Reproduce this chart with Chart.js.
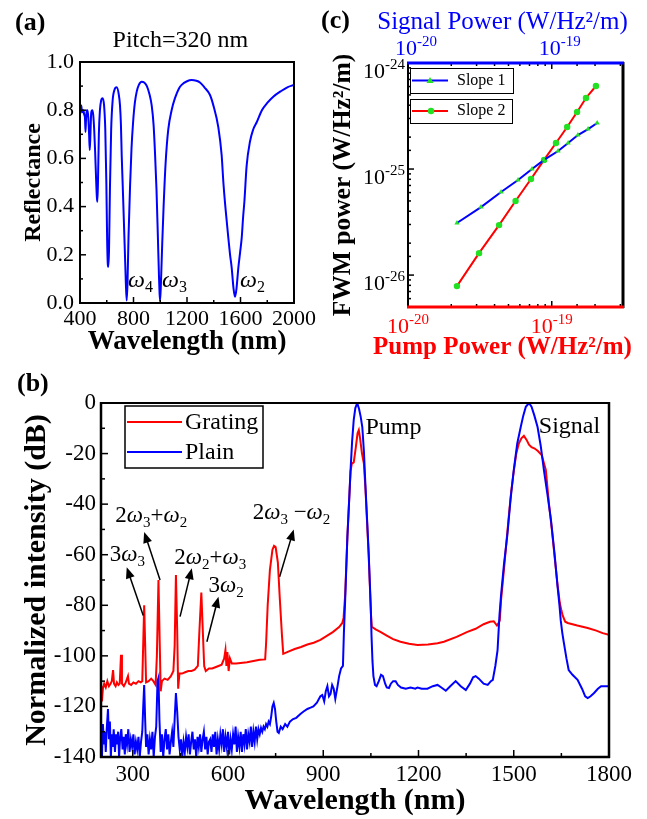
<!DOCTYPE html>
<html>
<head>
<meta charset="utf-8">
<title>FWM grating figure</title>
<script src="https://cdn.jsdelivr.net/npm/chart.js@4.4.1/dist/chart.umd.min.js"></script>
<style>
    html, body { margin: 0; padding: 0; background: #fff; }
    body { width: 647px; height: 819px; position: relative; overflow: hidden; }
    canvas { position: absolute; }
    #reflChart { left: 0; top: 0; }
    #fwmChart { left: 320px; top: 0; }
    #spectrumChart { left: 0; top: 370px; }
</style>
</head>
<body>
<canvas id="reflChart" width="320" height="358"></canvas>
<canvas id="fwmChart" width="327" height="370"></canvas>
<canvas id="spectrumChart" width="647" height="449"></canvas>
<script>
// ---------------- Panel (a): reflectance, pitch = 320 nm ----------------
const reflWavelength = [400, 405, 410, 415, 420, 426, 432, 437, 441, 445, 450, 456, 462, 468, 473, 478, 484, 492, 499, 506,
    513, 520, 526, 530, 535, 541, 549, 558, 569, 580, 589, 597, 603, 608, 612, 617, 624, 633, 644, 658,
    674, 690, 699, 706, 712, 718, 724, 735, 743, 749, 755, 763, 774, 785, 797, 810, 824, 840, 861, 880,
    900, 920, 936, 950, 961, 972, 982, 990, 995, 999, 1005, 1015, 1025, 1040, 1060, 1085, 1110, 1140, 1160, 1200,
    1235, 1270, 1297, 1330, 1372, 1397, 1434, 1459, 1472, 1485, 1497, 1509, 1522, 1534, 1548, 1559, 1570, 1584, 1597, 1609,
    1620, 1629, 1646, 1671, 1695, 1721, 1760, 1800, 1845, 1900, 1950, 2000];
const reflectance = [0.83, 0.80, 0.82, 0.79, 0.80, 0.80, 0.78, 0.77, 0.71, 0.76, 0.80, 0.80, 0.77, 0.70, 0.635, 0.70, 0.79, 0.80, 0.78, 0.72,
    0.63, 0.52, 0.44, 0.42, 0.52, 0.70, 0.80, 0.84, 0.85, 0.82, 0.72, 0.50, 0.26, 0.16, 0.15, 0.22, 0.48, 0.72, 0.84, 0.885,
    0.895, 0.865, 0.82, 0.74, 0.61, 0.51, 0.41, 0.22, 0.08, 0.01, 0.08, 0.28, 0.48, 0.64, 0.75, 0.83, 0.877, 0.905, 0.918, 0.915,
    0.90, 0.865, 0.82, 0.74, 0.62, 0.47, 0.28, 0.12, 0.04, 0.01, 0.08, 0.25, 0.40, 0.58, 0.72, 0.80, 0.85, 0.89, 0.905, 0.92,
    0.925, 0.922, 0.915, 0.895, 0.863, 0.82, 0.73, 0.614, 0.50, 0.41, 0.34, 0.27, 0.20, 0.147, 0.06, 0.026, 0.06, 0.147, 0.21, 0.27,
    0.36, 0.42, 0.57, 0.67, 0.72, 0.75, 0.80, 0.83, 0.856, 0.878, 0.895, 0.905];
const reflXTicks = [400, 600, 800, 1000, 1200, 1400, 1600, 1800, 2000];
const reflYTicks = [0, 0.1, 0.2, 0.3, 0.4, 0.5, 0.6, 0.7, 0.8, 0.9, 1.0];

// ---------------- Panel (b): normalized output spectra ----------------
const gratingWavelength = [200, 203, 206, 210, 215, 220, 225, 230, 234, 238, 241, 246, 250, 255, 259, 263, 266, 272, 278, 285,
    288, 295, 302, 310, 318, 325, 330, 333, 336, 339, 342, 350, 358, 365, 372, 376, 381, 385, 388, 392,
    400, 410, 420, 428, 432, 436, 440, 443, 447, 455, 465, 475, 485, 495, 505, 510, 516, 520, 525, 530,
    540, 550, 560, 570, 580, 588, 592, 595, 598, 602, 606, 612, 625, 640, 660, 680, 700, 717, 720, 725,
    732, 740, 745, 750, 757, 763, 770, 774, 790, 810, 830, 850, 870, 891, 910, 930, 950, 960, 964, 969,
    976, 981, 986, 990, 996, 1002, 1008, 1012, 1016, 1022, 1028, 1033, 1038, 1043, 1047, 1050, 1053, 1065, 1080, 1100,
    1120, 1143, 1170, 1197, 1230, 1260, 1280, 1320, 1354, 1380, 1405, 1425, 1437, 1447, 1452, 1456, 1460, 1469, 1477, 1485,
    1492, 1500, 1508, 1516, 1524, 1532, 1540, 1548, 1556, 1566, 1576, 1588, 1601, 1611, 1620, 1628, 1638, 1645, 1650, 1654,
    1662, 1670, 1700, 1733, 1760, 1780, 1800];
const gratingIntensity = [-112, -118, -113, -111, -112.5, -110, -112, -111, -110, -105.6, -111, -112, -110.5, -111.5, -111, -99.6, -111, -112, -110.5, -108,
    -111, -111.5, -110.5, -111, -110, -110.5, -110, -95, -80, -95, -110.5, -110, -109, -110, -111.5, -100, -70, -95, -114, -110,
    -109, -109.5, -108, -106, -96, -68, -90, -113, -107, -107, -106.5, -106, -106, -105.5, -104, -90, -75, -88, -104, -106,
    -105, -105, -104.5, -104, -103.5, -101, -97.7, -104, -98.5, -106, -101, -103, -103, -102.8, -102.5, -102, -101.5, -101.4, -95, -80,
    -66, -58, -56.5, -57, -63, -77, -92, -99.2, -98.3, -97.3, -96.5, -95.5, -94.8, -93.7, -92.2, -90.6, -88.6, -87, -85, -76,
    -53, -40, -27, -24, -23.5, -18, -12, -10.7, -14, -20, -24, -34, -47, -60, -73, -83, -88.5, -89.5, -90.5, -92,
    -93.4, -94.4, -95.2, -95.7, -95.5, -95, -94.4, -92.5, -90.5, -89.3, -87.5, -86.5, -86.3, -88, -87, -86, -78, -66, -55, -44,
    -35, -27, -20, -16, -14, -13, -14.5, -16.5, -17.5, -18, -19, -20.6, -26.5, -40, -50, -60, -72, -79, -82, -84,
    -86.5, -87, -88, -89, -90, -91, -91.7];

const plainWavelength = [200, 203, 206, 209, 212, 215, 218, 222, 225, 228, 231, 234, 237, 240, 244, 247, 250, 254, 257, 260,
    264, 268, 271, 275, 278, 282, 286, 290, 294, 298, 302, 306, 310, 314, 318, 322, 326, 330, 333, 336,
    339, 342, 346, 350, 354, 358, 362, 366, 370, 374, 378, 381, 384, 388, 392, 396, 400, 404, 408, 412,
    416, 420, 424, 428, 432, 436, 440, 444, 448, 452, 456, 460, 464, 468, 472, 476, 480, 484, 488, 492,
    496, 500, 504, 508, 512, 516, 520, 524, 528, 532, 536, 540, 544, 548, 552, 556, 560, 564, 568, 572,
    576, 580, 584, 588, 592, 596, 600, 604, 608, 612, 616, 620, 624, 628, 632, 636, 640, 644, 648, 652,
    656, 660, 664, 668, 672, 676, 680, 684, 688, 692, 696, 700, 704, 708, 712, 716, 720, 724, 728, 732,
    736, 740, 744, 748, 752, 756, 760, 766, 772, 780, 787, 795, 805, 815, 828, 838, 850, 860, 869, 880,
    891, 897, 903, 908, 913, 918, 923, 928, 933, 938, 945, 950, 956, 962, 965, 969, 976, 981, 986, 991,
    996, 1001, 1007, 1013, 1018, 1023, 1028, 1033, 1038, 1043, 1047, 1050, 1052, 1055, 1058, 1063, 1068, 1075, 1082, 1088,
    1095, 1100, 1107, 1113, 1120, 1128, 1135, 1145, 1160, 1175, 1190, 1197, 1210, 1228, 1245, 1260, 1272, 1286, 1300, 1317,
    1333, 1349, 1362, 1372, 1380, 1390, 1405, 1418, 1428, 1434, 1442, 1449, 1455, 1460, 1469, 1480, 1490, 1500, 1511, 1522,
    1530, 1538, 1548, 1556, 1565, 1575, 1585, 1595, 1606, 1617, 1628, 1638, 1644, 1648, 1653, 1658, 1666, 1673, 1685, 1701,
    1715, 1725, 1733, 1742, 1753, 1765, 1775, 1790, 1800];
const plainIntensity = [-128, -140, -127, -135, -130, -138, -129, -121, -133, -126, -140, -131, -136, -129, -138, -131, -135, -130, -140, -133,
    -129, -137, -132, -139, -131, -135, -129, -138, -133, -136, -131, -139, -134, -137, -132, -140, -134, -130, -120, -111.5,
    -125, -136, -131, -139, -133, -137, -130, -140, -132, -128, -110, -108.7, -125, -138, -131, -140, -133, -129, -137, -131,
    -139, -134, -130, -136, -125, -114.7, -122, -132, -137, -133, -140, -134, -138, -132, -136, -131, -139, -134, -130, -137,
    -133, -140, -132, -136, -131, -138, -133, -130, -137, -132, -139, -134, -133, -138, -131, -136, -130, -139, -133, -137,
    -131, -135, -129, -138, -132, -136, -130, -139, -133, -137, -131, -135, -128, -138, -132, -136, -130, -138, -131, -135,
    -129, -137, -131, -134, -128, -136, -130, -134, -128, -133, -129, -131, -128.5, -130, -128, -129, -127, -128, -126, -127,
    -124, -120, -118.6, -121, -126, -130, -130.5, -128, -129, -127, -128, -126, -125, -124.5, -123, -122, -121, -120.5, -120, -118.5,
    -116, -115.5, -118, -114, -112, -116, -115, -111.5, -113, -117, -112, -108, -105, -104, -91, -78, -53, -40, -26.5, -15,
    -6.7, -2, 0, -2.5, -5.5, -9.5, -19, -33, -46, -59, -72, -82, -92, -102, -108, -111.5, -112, -110, -107.5, -108,
    -111, -112.5, -112.7, -111, -110, -110, -111.5, -112.5, -113, -112.5, -113, -112.5, -113, -113, -112, -111.5, -112.5, -113.8, -112, -110,
    -112, -113.5, -111, -108.5, -108, -109, -111, -111.5, -110, -109.5, -104, -97.7, -84, -76, -64, -52, -38, -26.5, -16, -9.5,
    -5, -1.5, 0, -1.5, -5, -9.5, -17, -26.5, -36, -46, -59, -72.6, -80, -86, -91, -95, -101, -105.6, -107.5, -109.5,
    -113, -116, -116.7, -116, -114.7, -113, -112, -112, -112];
const spectrumXTicks = [300, 450, 600, 750, 900, 1050, 1200, 1350, 1500, 1650, 1800];
const spectrumYTicks = [-140, -130, -120, -110, -100, -90, -80, -70, -60, -50, -40, -30, -20, -10, 0];

// ---------------- Panel (c): FWM power vs input power ----------------
const signalPower = [2.19e-20, 3.22e-20, 4.44e-20, 5.83e-20, 7.29e-20, 8.84e-20, 1.107e-19, 1.30e-19, 1.52e-19, 1.79e-19, 2.07e-19];
const fwmSlope1 = [3.10e-26, 4.38e-26, 6.07e-26, 7.88e-26, 1.0e-25, 1.22e-25, 1.48e-25, 1.76e-25, 2.09e-25, 2.38e-25, 2.72e-25];
const pumpPower = [2.19e-20, 3.12e-20, 4.30e-20, 5.6e-20, 7.17e-20, 8.84e-20, 1.07e-19, 1.28e-19, 1.50e-19, 1.73e-19, 2.03e-19];
const fwmSlope2 = [7.87e-27, 1.61e-26, 2.96e-26, 4.99e-26, 8.05e-26, 1.22e-25, 1.76e-25, 2.49e-25, 3.45e-25, 4.68e-25, 6.07e-25];
const powerTickExponents = [-20, -19];
const fwmTickExponents = [-26, -25, -24];

// Text notes on the spectrum, placed in data units (nm, dB)
const spectrumNotes = [
    { text: '3ω_3', at: [283, -62.5], from: [333, -84], to: [281, -65] },
    { text: '2ω_3+ω_2', at: [358, -47], from: [386, -70], to: [336, -51] },
    { text: '2ω_2+ω_3', at: [544, -63.7], from: [449, -84.5], to: [486, -65.4] },
    { text: '3ω_2', at: [594, -74.7], from: [533.5, -94.4], to: [570, -76.6] },
    { text: '2ω_3 −ω_2', at: [800, -45.9], from: [762.6, -68.7], to: [807, -50] }
];

const serif = "'Liberation Serif', 'Times New Roman', Times, serif";
const GREEN = '#22e022';

/**
 * Fix the size of a scale box so the plot areas land where the figure has them
 */
function lockScaleBox(size) {
    return scale => {
        if (scale.isHorizontal()) {
            scale.height = size;
        } else {
            scale.width = size;
        }
        scale.paddingLeft = 0;
        scale.paddingRight = 0;
        scale.paddingTop = 0;
        scale.paddingBottom = 0;
    };
}

function pairs(xs, ys) {
    return xs.map((x, i) => ({ x: x, y: ys[i] }));
}

function isPowerOfTen(v) {
    const e = Math.round(Math.log10(v));
    return Math.abs(v / Math.pow(10, e) - 1) < 1e-6;
}

/**
 * Draw text where '_' makes the next character a subscript; ω is italic
 */
function drawRichText(ctx, text, x, y, size, align) {
    const parts = [];
    for (let i = 0; i < text.length; i++) {
        if (text[i] === '_') {
            parts.push({ t: text[i + 1], sub: true });
            i++;
        } else {
            parts.push({ t: text[i], sub: false });
        }
    }
    const subSize = Math.round(size * 0.66);
    const fontFor = p => {
        if (p.sub) return `${subSize}px ${serif}`;
        if (p.t === 'ω') return `italic ${size}px ${serif}`;
        return `${size}px ${serif}`;
    };
    let width = 0;
    parts.forEach(p => {
        ctx.font = fontFor(p);
        p.w = ctx.measureText(p.t).width;
        width += p.w;
    });
    let cx = align === 'center' ? x - width / 2 : x;
    ctx.textAlign = 'left';
    ctx.textBaseline = 'alphabetic';
    parts.forEach(p => {
        ctx.font = fontFor(p);
        ctx.fillText(p.t, cx, p.sub ? y + size * 0.22 : y);
        cx += p.w;
    });
}

/**
 * Draw "10" with a raised exponent, centred on x (or right-aligned)
 */
function drawPowerLabel(ctx, exp, x, y, align, color) {
    const base = `22px ${serif}`;
    const sup = `15px ${serif}`;
    const e = String(exp);
    ctx.font = base;
    const wb = ctx.measureText('10').width;
    ctx.font = sup;
    const we = ctx.measureText(e).width;
    const total = wb + we;
    const left = align === 'right' ? x - total : x - total / 2;
    ctx.fillStyle = color;
    ctx.textAlign = 'left';
    ctx.textBaseline = 'alphabetic';
    ctx.font = base;
    ctx.fillText('10', left, y);
    ctx.font = sup;
    ctx.fillText(e, left + wb, y - 9);
}

function drawArrow(ctx, x0, y0, x1, y1) {
    const ang = Math.atan2(y1 - y0, x1 - x0);
    const head = 11;
    const half = 4.5;
    ctx.beginPath();
    ctx.moveTo(x0, y0);
    ctx.lineTo(x1 - Math.cos(ang) * head * 0.8, y1 - Math.sin(ang) * head * 0.8);
    ctx.stroke();
    ctx.beginPath();
    ctx.moveTo(x1, y1);
    ctx.lineTo(x1 - Math.cos(ang) * head - Math.sin(ang) * half, y1 - Math.sin(ang) * head + Math.cos(ang) * half);
    ctx.lineTo(x1 - Math.cos(ang) * head + Math.sin(ang) * half, y1 - Math.sin(ang) * head - Math.cos(ang) * half);
    ctx.closePath();
    ctx.fill();
}

/**
 * Box around the plot area, one colour/width per side
 */
function drawFrame(ctx, a, sides) {
    Object.keys(sides).forEach(side => {
        const [color, w] = sides[side];
        ctx.strokeStyle = color;
        ctx.lineWidth = w;
        ctx.beginPath();
        if (side === 'top') { ctx.moveTo(a.left - 1, a.top); ctx.lineTo(a.right + 1, a.top); }
        if (side === 'bottom') { ctx.moveTo(a.left - 1, a.bottom); ctx.lineTo(a.right + 1, a.bottom); }
        if (side === 'left') { ctx.moveTo(a.left, a.top - 1); ctx.lineTo(a.left, a.bottom + 1); }
        if (side === 'right') { ctx.moveTo(a.right, a.top - 1); ctx.lineTo(a.right, a.bottom + 1); }
        ctx.stroke();
    });
}

/**
 * Inward tick marks along one side of the plot area
 */
function drawTicks(ctx, scale, side, isMajor, majorLen, minorLen) {
    const a = scale.chart.chartArea;
    ctx.strokeStyle = '#000';
    ctx.lineWidth = 1.5;
    scale.ticks.forEach(t => {
        const p = scale.getPixelForValue(t.value);
        const len = isMajor(t.value) ? majorLen : minorLen;
        ctx.beginPath();
        if (side === 'bottom') { ctx.moveTo(p, a.bottom); ctx.lineTo(p, a.bottom - len); }
        if (side === 'top') { ctx.moveTo(p, a.top); ctx.lineTo(p, a.top + len); }
        if (side === 'left') { ctx.moveTo(a.left, p); ctx.lineTo(a.left + len, p); }
        ctx.stroke();
    });
}

function axisFont(size, bold) {
    return { family: serif, size: size, weight: bold ? 'bold' : 'normal' };
}

const baseOptions = {
    responsive: false,
    animation: false,
    events: [],
    plugins: { legend: { display: false }, tooltip: { enabled: false } }
};

// ---------------- Chart (a) ----------------
new Chart(document.getElementById('reflChart'), {
    type: 'line',
    data: {
        datasets: [{
            data: pairs(reflWavelength, reflectance),
            borderColor: '#0000ff',
            borderWidth: 2,
            pointRadius: 0,
            cubicInterpolationMode: 'monotone'
        }]
    },
    options: {
        ...baseOptions,
        layout: { padding: { top: 62, right: 26, left: 0, bottom: 0 } },
        scales: {
            x: {
                type: 'linear', min: 400, max: 2000,
                grid: { display: false, drawTicks: false }, border: { display: false },
                afterBuildTicks: s => { s.ticks = reflXTicks.map(v => ({ value: v })); },
                ticks: {
                    autoSkip: false, maxRotation: 0, padding: 3, color: '#000', font: axisFont(22),
                    callback: v => (v % 400 === 0 ? String(v) : '')
                },
                title: { display: true, text: 'Wavelength (nm)', color: '#000', font: axisFont(27, true), padding: { top: 0, bottom: 0 } },
                afterFit: lockScaleBox(55)
            },
            y: {
                type: 'linear', min: 0, max: 1,
                grid: { display: false, drawTicks: false }, border: { display: false },
                afterBuildTicks: s => { s.ticks = reflYTicks.map(v => ({ value: v })); },
                ticks: {
                    autoSkip: false, padding: 6, color: '#000', font: axisFont(22),
                    callback: v => (Math.round(v * 10) % 2 === 0 ? v.toFixed(1) : '')
                },
                title: { display: true, text: 'Reflectance', color: '#000', font: axisFont(24, true), padding: { top: 19, bottom: 0 } },
                afterFit: lockScaleBox(80)
            }
        }
    },
    plugins: [{
        id: 'reflDecor',
        afterDraw(chart) {
            const { ctx, chartArea: a, scales } = chart;
            ctx.save();
            drawTicks(ctx, scales.x, 'bottom', v => v % 400 === 0, 6, 3);
            drawTicks(ctx, scales.y, 'left', v => Math.round(v * 10) % 2 === 0, 6, 3);
            drawFrame(ctx, a, { top: ['#000', 2], bottom: ['#000', 2], left: ['#000', 2], right: ['#000', 2] });
            ctx.fillStyle = '#000';
            ctx.font = `bold 26px ${serif}`;
            ctx.textAlign = 'left';
            ctx.textBaseline = 'middle';
            ctx.fillText('(a)', 15, 23);
            ctx.font = `24px ${serif}`;
            ctx.textAlign = 'center';
            ctx.fillText('Pitch=320 nm', scales.x.getPixelForValue(1150), a.top - 21);
            const yb = scales.y.getPixelForValue(0.066);
            drawRichText(ctx, 'ω_4', scales.x.getPixelForValue(759), yb, 24, 'left');
            drawRichText(ctx, 'ω_3', scales.x.getPixelForValue(1013), yb, 24, 'left');
            drawRichText(ctx, 'ω_2', scales.x.getPixelForValue(1596), yb, 24, 'left');
            ctx.restore();
        }
    }]
});

// ---------------- Chart (c) ----------------
new Chart(document.getElementById('fwmChart'), {
    type: 'line',
    data: {
        datasets: [{
            label: 'Slope 1',
            data: pairs(signalPower, fwmSlope1),
            xAxisID: 'x2',
            borderColor: '#0000ff',
            borderWidth: 2,
            pointStyle: 'triangle',
            pointRadius: 3,
            pointBackgroundColor: GREEN,
            pointBorderColor: GREEN,
            pointBorderWidth: 0
        }, {
            label: 'Slope 2',
            data: pairs(pumpPower, fwmSlope2),
            xAxisID: 'x',
            borderColor: '#ff0000',
            borderWidth: 2,
            pointStyle: 'circle',
            pointRadius: 3.2,
            pointBackgroundColor: GREEN,
            pointBorderColor: GREEN,
            pointBorderWidth: 0
        }]
    },
    options: {
        ...baseOptions,
        layout: { padding: { top: 0, right: 24, left: 0, bottom: 0 } },
        scales: {
            x: {
                type: 'logarithmic', position: 'bottom', min: 1e-20, max: 3.13e-19,
                grid: { display: false, drawTicks: false }, border: { display: false },
                ticks: { display: false, autoSkip: false },
                // drawn by the plugin below: the title is wider than the plot
                title: { display: false, text: 'Pump Power (W/Hz²/m)', color: '#ff0000', font: axisFont(25, true) },
                afterFit: lockScaleBox(63)
            },
            x2: {
                type: 'logarithmic', position: 'top', min: 1e-20, max: 3.13e-19,
                grid: { display: false, drawTicks: false }, border: { display: false },
                ticks: { display: false, autoSkip: false },
                title: { display: false, text: 'Signal Power (W/Hz²/m)', color: '#0000ff', font: axisFont(25) },
                afterFit: lockScaleBox(63)
            },
            y: {
                type: 'logarithmic', min: 5e-27, max: 1e-24,
                grid: { display: false, drawTicks: false }, border: { display: false },
                ticks: { display: false, autoSkip: false },
                title: { display: true, text: 'FWM power (W/Hz²/m)', color: '#000', font: axisFont(25.5, true), padding: { top: 8, bottom: 0 } },
                afterFit: lockScaleBox(88)
            }
        }
    },
    plugins: [{
        id: 'fwmDecor',
        afterDraw(chart) {
            const { ctx, chartArea: a, scales } = chart;
            ctx.save();
            drawTicks(ctx, scales.x, 'bottom', isPowerOfTen, 6, 3);
            drawTicks(ctx, scales.x2, 'top', isPowerOfTen, 6, 3);
            drawTicks(ctx, scales.y, 'left', isPowerOfTen, 6, 3);
            drawFrame(ctx, a, { left: ['#000', 2], right: ['#000', 3], top: ['#0000ff', 3], bottom: ['#ff0000', 3] });

            powerTickExponents.forEach(e => {
                const px = scales.x.getPixelForValue(Math.pow(10, e));
                drawPowerLabel(ctx, e, px, a.bottom + 26, 'center', '#ff0000');
                const px2 = scales.x2.getPixelForValue(Math.pow(10, e));
                drawPowerLabel(ctx, e, px2 + 8, a.top - 8, 'center', '#0000ff');
            });
            fwmTickExponents.forEach(e => {
                const py = scales.y.getPixelForValue(Math.pow(10, e));
                drawPowerLabel(ctx, e, a.left - 3, py + 15, 'right', '#000');
            });

            // horizontal axis titles, a little left of the plot centre
            const midX = (a.left + a.right) / 2 - 13;
            ctx.textAlign = 'center';
            ctx.textBaseline = 'middle';
            [scales.x2, scales.x].forEach(s => {
                const t = s.options.title;
                ctx.fillStyle = t.color;
                ctx.font = `${t.font.weight === 'bold' ? 'bold ' : ''}${t.font.size}px ${serif}`;
                ctx.fillText(t.text, midX, s.position === 'top' ? 22 : 348);
            });

            // legend boxes
            const ds = chart.data.datasets;
            const rows = [{ top: a.top + 5, h: 25, w: 103 }, { top: a.top + 36, h: 24, w: 102 }];
            rows.forEach((r, i) => {
                const d = ds[i];
                const cy = r.top + r.h / 2;
                ctx.strokeStyle = '#000';
                ctx.lineWidth = 1;
                ctx.strokeRect(a.left + 2.5, r.top + 0.5, r.w, r.h);
                ctx.strokeStyle = d.borderColor;
                ctx.lineWidth = 2;
                ctx.beginPath();
                ctx.moveTo(a.left + 4, cy);
                ctx.lineTo(a.left + 40, cy);
                ctx.stroke();
                ctx.fillStyle = GREEN;
                ctx.beginPath();
                if (d.pointStyle === 'triangle') {
                    ctx.moveTo(a.left + 22, cy - 3.5);
                    ctx.lineTo(a.left + 25.5, cy + 2.5);
                    ctx.lineTo(a.left + 18.5, cy + 2.5);
                    ctx.closePath();
                } else {
                    ctx.arc(a.left + 23, cy, 3.2, 0, Math.PI * 2);
                }
                ctx.fill();
                ctx.fillStyle = '#000';
                ctx.font = `16px ${serif}`;
                ctx.textAlign = 'left';
                ctx.textBaseline = 'middle';
                ctx.fillText(d.label, a.left + 49, cy);
            });

            ctx.fillStyle = '#000';
            ctx.font = `bold 26px ${serif}`;
            ctx.textAlign = 'left';
            ctx.textBaseline = 'middle';
            ctx.fillText('(c)', 1, 21);
            ctx.restore();
        }
    }]
});

// ---------------- Chart (b) ----------------
new Chart(document.getElementById('spectrumChart'), {
    type: 'line',
    data: {
        datasets: [{
            label: 'Grating',
            data: pairs(gratingWavelength, gratingIntensity),
            borderColor: '#ff0000',
            borderWidth: 2,
            pointRadius: 0,
            tension: 0,
            order: 2
        }, {
            label: 'Plain',
            data: pairs(plainWavelength, plainIntensity),
            borderColor: '#0000ff',
            borderWidth: 2,
            pointRadius: 0,
            tension: 0,
            order: 1
        }]
    },
    options: {
        ...baseOptions,
        layout: { padding: { top: 33, right: 38, left: 0, bottom: 0 } },
        scales: {
            x: {
                type: 'linear', min: 200, max: 1800,
                grid: { display: false, drawTicks: false }, border: { display: false },
                afterBuildTicks: s => { s.ticks = spectrumXTicks.map(v => ({ value: v })); },
                ticks: {
                    autoSkip: false, maxRotation: 0, padding: 4, color: '#000', font: axisFont(23),
                    callback: v => (v % 300 === 0 ? String(v) : '')
                },
                title: { display: true, text: 'Wavelength (nm)', color: '#000', font: axisFont(30, true), padding: { top: 0, bottom: 0 } },
                afterFit: lockScaleBox(62)
            },
            y: {
                type: 'linear', min: -140, max: 0,
                grid: { display: false, drawTicks: false }, border: { display: false },
                afterBuildTicks: s => { s.ticks = spectrumYTicks.map(v => ({ value: v })); },
                ticks: {
                    autoSkip: false, padding: 5, color: '#000', font: axisFont(23),
                    callback: v => (v % 20 === 0 ? String(v) : '')
                },
                title: { display: true, text: 'Normalized intensity (dB)', color: '#000', font: axisFont(30, true), padding: { top: 19, bottom: 0 } },
                afterFit: lockScaleBox(101)
            }
        }
    },
    plugins: [{
        id: 'spectrumDecor',
        afterDraw(chart) {
            const { ctx, chartArea: a, scales } = chart;
            const X = v => scales.x.getPixelForValue(v);
            const Y = v => scales.y.getPixelForValue(v);
            ctx.save();
            drawTicks(ctx, scales.x, 'bottom', v => v % 300 === 0, 7, 4);
            drawTicks(ctx, scales.y, 'left', v => v % 20 === 0, 7, 4);
            drawFrame(ctx, a, { top: ['#000', 2], bottom: ['#000', 2.5], left: ['#000', 2.5], right: ['#000', 2.5] });

            ctx.fillStyle = '#000';
            ctx.strokeStyle = '#000';
            ctx.lineWidth = 1.5;
            spectrumNotes.forEach(n => {
                drawRichText(ctx, n.text, X(n.at[0]), Y(n.at[1]), 23, 'center');
                drawArrow(ctx, X(n.from[0]), Y(n.from[1]), X(n.to[0]), Y(n.to[1]));
            });
            ctx.font = `24px ${serif}`;
            ctx.textAlign = 'left';
            ctx.textBaseline = 'alphabetic';
            ctx.fillText('Pump', X(1033), Y(-12.3));
            ctx.fillText('Signal', X(1579), Y(-11.9));

            // legend
            const ds = chart.data.datasets;
            ctx.strokeStyle = '#000';
            ctx.lineWidth = 1.5;
            ctx.strokeRect(a.left + 24, a.top + 3, 138, 62);
            [19, 49].forEach((dy, i) => {
                ctx.strokeStyle = ds[i].borderColor;
                ctx.lineWidth = 2;
                ctx.beginPath();
                ctx.moveTo(a.left + 26, a.top + dy);
                ctx.lineTo(a.left + 81, a.top + dy);
                ctx.stroke();
                ctx.fillStyle = '#000';
                ctx.font = `24px ${serif}`;
                ctx.textBaseline = 'middle';
                ctx.fillText(ds[i].label, a.left + 84, a.top + dy + 1);
            });

            ctx.font = `bold 26px ${serif}`;
            ctx.textBaseline = 'middle';
            ctx.fillText('(b)', 17, 14);
            ctx.restore();
        }
    }]
});
</script>
</body>
</html>
